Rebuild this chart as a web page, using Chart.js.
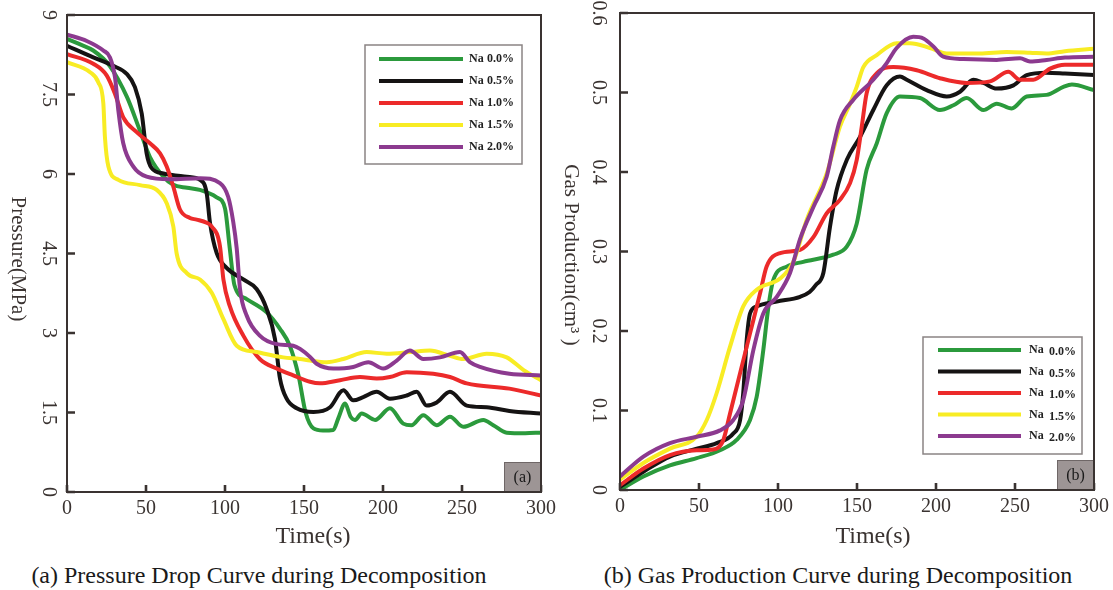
<!DOCTYPE html>
<html>
<head>
<meta charset="utf-8">
<script src="https://cdn.jsdelivr.net/npm/chart.js@4"></script>
<style>
  html, body { margin:0; padding:0; background:#fff; width:1113px; height:590px; overflow:hidden; }
  canvas { position:absolute; top:0; }
  .cap { position:absolute; top:561px; font-family:"Liberation Serif", serif; font-size:24px; line-height:28px; color:#1a1a1a; white-space:nowrap; transform:translateX(-50%); }
</style>
</head>
<body>
<canvas id="cA" width="556" height="560" style="left:0px"></canvas>
<canvas id="cB" width="557" height="560" style="left:556px"></canvas>
<div class="cap" style="left:259px">(a) Pressure Drop Curve during Decomposition</div>
<div class="cap" style="left:838px">(b) Gas Production Curve during Decomposition</div>
<script>
// ---------- shared ----------
const seriesLabels = ['0.0%', '0.5%', '1.0%', '1.5%', '2.0%'];
const seriesPrefix = 'Na';
const xTickValues = [0, 50, 100, 150, 200, 250, 300];
const xTickLabels = ['0', '50', '100', '150', '200', '250', '300'];

// ---------- (a) pressure, MPa ----------
const pressureTicks = [0, 1.5, 3, 4.5, 6, 7.5, 9];
const pressureTickLabels = ['0', '1.5', '3', '4.5', '6', '7.5', '9'];

const pT_00 = [0, 8, 16.6, 27, 38, 46, 52.5, 61, 67, 76, 84, 94.7, 100, 103, 106, 113.7, 126.4, 134.8, 141, 146.5, 151, 156, 162, 168.5, 171.7, 176, 179.5, 182.3, 186.5, 195, 204.4, 212.8, 218, 225.5, 234, 242.4, 250.8, 263.5, 269.8, 278.3, 290, 300];
const pV_00 = [8.55, 8.45, 8.33, 8.04, 7.45, 6.83, 6.32, 5.95, 5.80, 5.74, 5.70, 5.56, 5.35, 4.6, 3.9, 3.64, 3.39, 3.08, 2.76, 2.20, 1.50, 1.20, 1.16, 1.17, 1.39, 1.67, 1.42, 1.36, 1.48, 1.36, 1.58, 1.29, 1.26, 1.45, 1.26, 1.42, 1.23, 1.36, 1.26, 1.12, 1.11, 1.12];

const pT_05 = [0, 16.6, 29.3, 37.8, 43, 47.3, 50.4, 53.6, 61, 75.8, 84.2, 88.4, 90.5, 94.7, 101, 111.6, 120, 126.4, 131.6, 134.8, 139, 145.4, 156, 166.5, 174.9, 181.2, 187.5, 196, 204.4, 215, 221.3, 227.6, 234, 242.4, 253, 265.6, 280, 300];
const pV_05 = [8.42, 8.2, 8.04, 7.89, 7.64, 7.14, 6.39, 6.11, 6.01, 5.95, 5.89, 5.64, 5.08, 4.51, 4.23, 4.01, 3.83, 3.45, 2.89, 2.14, 1.76, 1.58, 1.51, 1.60, 1.92, 1.73, 1.79, 1.89, 1.76, 1.82, 1.89, 1.63, 1.69, 1.89, 1.63, 1.60, 1.53, 1.48];

const pT_10 = [0, 16.6, 25.1, 30.4, 35.6, 44.1, 52.5, 58.9, 63.1, 67.3, 71.5, 77.8, 82, 88.4, 91.6, 96.8, 99, 103, 111.6, 122, 132.7, 143.2, 153.8, 160, 172.8, 185.4, 196, 204.4, 215, 231.8, 242.4, 253, 280, 300];
const pV_10 = [8.26, 8.08, 7.86, 7.51, 7.07, 6.79, 6.58, 6.39, 6.14, 5.76, 5.33, 5.17, 5.14, 5.08, 5.01, 4.64, 4.01, 3.51, 2.95, 2.51, 2.33, 2.20, 2.08, 2.05, 2.11, 2.17, 2.14, 2.17, 2.26, 2.23, 2.17, 2.05, 1.95, 1.82];

const pT_15 = [0, 14.6, 19.8, 23, 24, 26.2, 32.5, 46.2, 56.8, 63.1, 67.3, 69.4, 75.8, 84.2, 91.6, 99, 107.4, 120, 136.9, 147.5, 153.8, 164.4, 174.9, 189.7, 202.3, 217, 229.7, 242.4, 250.8, 265.6, 278.3, 289, 300];
const pV_15 = [8.11, 7.92, 7.73, 7.33, 6.70, 6.14, 5.89, 5.79, 5.70, 5.45, 5.01, 4.50, 4.13, 4.01, 3.76, 3.26, 2.76, 2.64, 2.54, 2.51, 2.48, 2.45, 2.51, 2.64, 2.61, 2.64, 2.67, 2.57, 2.51, 2.61, 2.54, 2.30, 2.11];

const pT_20 = [0, 12.5, 23, 27.2, 30.4, 32.5, 35.6, 42, 50.4, 65.2, 84.2, 96.8, 102, 105.2, 107.4, 109.5, 113.7, 122, 132.7, 143.2, 147.5, 153.8, 158, 168.5, 181.2, 190.7, 200.2, 208.7, 217, 225.5, 236, 248.7, 255, 261.4, 280, 300];
const pV_20 = [8.63, 8.51, 8.33, 8.2, 7.82, 7.2, 6.58, 6.14, 5.95, 5.90, 5.92, 5.83, 5.57, 5.1, 4.6, 3.83, 3.33, 2.95, 2.79, 2.76, 2.70, 2.55, 2.42, 2.33, 2.36, 2.45, 2.33, 2.48, 2.67, 2.51, 2.54, 2.64, 2.45, 2.36, 2.23, 2.20];

// ---------- (b) gas production, cm3 ----------
const gasTicks = [0, 0.1, 0.2, 0.3, 0.4, 0.5, 0.6];
const gasTickLabels = ['0', '0.1', '0.2', '0.3', '0.4', '0.5', '0.6'];

const gT_00 = [0, 14.8, 31.6, 48.5, 63.3, 73.8, 82.3, 86.5, 90.7, 93.9, 97, 105.5, 116, 135, 143.5, 149.8, 156.1, 162.5, 168.8, 177.2, 189.9, 202.5, 211, 219.4, 230, 238.4, 247.9, 257.4, 270, 280.6, 286, 300];
const gV_00 = [0, 0.017, 0.031, 0.040, 0.050, 0.063, 0.088, 0.117, 0.176, 0.23, 0.264, 0.281, 0.287, 0.296, 0.306, 0.335, 0.403, 0.436, 0.474, 0.495, 0.493, 0.478, 0.484, 0.493, 0.478, 0.486, 0.480, 0.495, 0.497, 0.507, 0.510, 0.503];

const gT_05 = [0, 14.8, 31.6, 48.5, 61.2, 71.7, 76, 78, 80.2, 82.3, 86.5, 99.2, 114, 120, 124, 128.7, 132.9, 137.1, 143.5, 151.9, 160.3, 168.8, 177.2, 181.5, 194.1, 206.8, 215.2, 223.6, 230, 238.4, 249, 257.4, 270, 281.6, 300];
const gV_05 = [0.004, 0.023, 0.042, 0.052, 0.059, 0.071, 0.088, 0.122, 0.189, 0.222, 0.231, 0.237, 0.243, 0.249, 0.258, 0.273, 0.331, 0.377, 0.415, 0.444, 0.478, 0.509, 0.520, 0.516, 0.503, 0.495, 0.501, 0.516, 0.512, 0.505, 0.509, 0.522, 0.525, 0.524, 0.522];

const gT_10 = [0, 14.8, 31.6, 48.5, 59, 65.4, 69.6, 76, 82.3, 88.6, 92.8, 101.3, 114, 122.4, 130.8, 139.2, 145.6, 149.8, 153, 156.1, 162.5, 173, 187.8, 202.5, 219.4, 234.2, 245.8, 253.2, 261.6, 272.2, 281.6, 300];
const gV_10 = [0.006, 0.027, 0.044, 0.050, 0.051, 0.063, 0.096, 0.147, 0.197, 0.247, 0.281, 0.298, 0.302, 0.318, 0.348, 0.365, 0.386, 0.415, 0.457, 0.499, 0.524, 0.532, 0.528, 0.518, 0.512, 0.514, 0.526, 0.516, 0.516, 0.530, 0.535, 0.535];

const gT_15 = [0, 14.8, 31.6, 48.5, 54.9, 61.2, 69.6, 78, 86.5, 101.3, 109.7, 118.2, 130.8, 139.2, 145.6, 149.8, 154, 162.5, 175.1, 183.5, 196.2, 206.8, 227.8, 244.7, 259.5, 270, 281.6, 300];
const gV_15 = [0.013, 0.034, 0.052, 0.067, 0.088, 0.122, 0.180, 0.231, 0.252, 0.266, 0.287, 0.340, 0.398, 0.457, 0.486, 0.507, 0.532, 0.547, 0.562, 0.562, 0.556, 0.549, 0.549, 0.551, 0.550, 0.549, 0.552, 0.555];

const gT_20 = [0, 14.8, 31.6, 48.5, 63.3, 71.7, 78, 84.4, 90.7, 99.2, 107.6, 114, 122.4, 130.8, 135, 139.2, 147.7, 160.3, 168.8, 175.1, 185.6, 192, 198.3, 204.6, 217.3, 238.4, 253.2, 259.5, 270, 281.6, 300];
const gV_20 = [0.017, 0.042, 0.059, 0.067, 0.075, 0.088, 0.113, 0.176, 0.222, 0.243, 0.273, 0.316, 0.356, 0.394, 0.432, 0.465, 0.491, 0.516, 0.537, 0.556, 0.570, 0.568, 0.558, 0.545, 0.542, 0.541, 0.543, 0.539, 0.541, 0.544, 0.545];

// ---------- styling ----------
const lineColors = ['#2b9a3c', '#151313', '#ec2a2a', '#f8ec24', '#8c3a8f'];
const FONT = '"Liberation Serif", "Times New Roman", serif';
const INK = '#3a3331';

function pts(t, v) { return t.map((x, i) => ({ x: x, y: v[i] })); }

const decor = {
  id: 'decor',
  afterDraw(chart, args, o) {
    const ctx = chart.ctx, a = chart.chartArea, xs = chart.scales.x, ys = chart.scales.y;
    ctx.save();
    // frame
    ctx.strokeStyle = INK; ctx.lineWidth = 2;
    ctx.strokeRect(a.left, a.top, a.right - a.left, a.bottom - a.top);
    // inward tick marks
    ctx.lineWidth = 2.6;
    ctx.beginPath();
    xTickValues.forEach(v => { const px = xs.getPixelForValue(v); ctx.moveTo(px, a.bottom); ctx.lineTo(px, a.bottom - 7); });
    o.yTicks.forEach(v => { const py = ys.getPixelForValue(v); ctx.moveTo(a.left, py); ctx.lineTo(a.left + 8, py); });
    ctx.stroke();
    ctx.fillStyle = INK;
    ctx.font = '20px ' + FONT; ctx.textAlign = 'center'; ctx.textBaseline = 'middle';
    // x tick labels
    xTickValues.forEach((v, i) => { ctx.fillText(xTickLabels[i], xs.getPixelForValue(v), a.bottom + 17); });
    // rotated y tick labels
    o.yTicks.forEach((v, i) => {
      const py = ys.getPixelForValue(v);
      ctx.save(); ctx.translate(o.yLabelX, py); ctx.rotate(Math.PI / 2); ctx.fillText(o.yLabels[i], 0, 0); ctx.restore();
    });
    // y title (rotated, reading downwards)
    ctx.font = '21px ' + FONT;
    ctx.save(); ctx.translate(o.yTitleX, o.yTitleY); ctx.rotate(Math.PI / 2); ctx.fillText(o.yTitle, 0, 0); ctx.restore();
    // x title
    ctx.font = '24px ' + FONT;
    ctx.fillText(o.xTitle, o.xTitleX, o.xTitleY);
    // tag box
    const tw = 37, th = 30;
    ctx.fillStyle = '#9d9595';
    ctx.fillRect(a.right - tw, a.bottom - th, tw, th);
    ctx.strokeStyle = '#6f6767'; ctx.lineWidth = 1;
    ctx.strokeRect(a.right - tw + 0.5, a.bottom - th + 0.5, tw - 1, th - 1);
    ctx.fillStyle = '#1a1a1a'; ctx.font = '16px ' + FONT;
    ctx.fillText(o.tag, a.right - tw / 2, a.bottom - th / 2 + 1);
    // frame again on top of tag
    ctx.strokeStyle = INK; ctx.lineWidth = 2;
    ctx.beginPath(); ctx.moveTo(a.right, a.top); ctx.lineTo(a.right, a.bottom); ctx.lineTo(a.left, a.bottom); ctx.stroke();
    // legend
    const L = o.legend;
    ctx.fillStyle = '#fff'; ctx.fillRect(L.x0, L.y0, L.x1 - L.x0, L.y1 - L.y0);
    ctx.strokeStyle = '#8a8484'; ctx.lineWidth = 1.5;
    ctx.strokeRect(L.x0, L.y0, L.x1 - L.x0, L.y1 - L.y0);
    chart.data.datasets.forEach((ds, i) => {
      const ry = L.row0 + i * L.rowGap;
      ctx.strokeStyle = ds.borderColor; ctx.lineWidth = 4; ctx.lineCap = 'butt';
      ctx.beginPath(); ctx.moveTo(L.lx0, ry); ctx.lineTo(L.lx1, ry); ctx.stroke();
      ctx.fillStyle = '#222'; ctx.font = 'bold 12px ' + FONT; ctx.textAlign = 'left'; ctx.textBaseline = 'middle';
      ctx.fillText(seriesPrefix, L.naX, ry);
      ctx.fillText(seriesLabels[i], L.pctX, ry + L.pctDy);
    });
    ctx.restore();
  }
};

function makeChart(id, sets, yMax, pad, decorOpts) {
  return new Chart(document.getElementById(id), {
    type: 'line',
    data: {
      datasets: sets.map((s, i) => ({
        label: seriesPrefix + ' ' + seriesLabels[i],
        data: pts(s[0], s[1]),
        borderColor: lineColors[i],
        backgroundColor: lineColors[i],
        borderWidth: 4,
        pointRadius: 0,
        fill: false,
        cubicInterpolationMode: 'monotone',
        order: 4 - i
      }))
    },
    options: {
      responsive: false, animation: false, devicePixelRatio: 1,
      layout: { padding: pad },
      plugins: { legend: { display: false }, tooltip: { enabled: false }, decor: decorOpts },
      scales: {
        x: { type: 'linear', display: false, min: 0, max: 300 },
        y: { type: 'linear', display: false, min: 0, max: yMax }
      }
    },
    plugins: [decor]
  });
}

makeChart('cA',
  [[pT_00, pV_00], [pT_05, pV_05], [pT_10, pV_10], [pT_15, pV_15], [pT_20, pV_20]],
  9, { left: 67, right: 15, top: 15, bottom: 68 },
  { yTicks: pressureTicks, yLabels: pressureTickLabels, yLabelX: 48, yTitle: 'Pressure(MPa)', yTitleX: 18, yTitleY: 259,
    xTitle: 'Time(s)', xTitleX: 313, xTitleY: 537, tag: '(a)',
    legend: { x0: 365, y0: 45, x1: 522, y1: 164, row0: 59, rowGap: 22, lx0: 379, lx1: 463, naX: 469, pctX: 487, pctDy: 0 } });

makeChart('cB',
  [[gT_00, gV_00], [gT_05, gV_05], [gT_10, gV_10], [gT_15, gV_15], [gT_20, gV_20]],
  0.6, { left: 64, right: 19, top: 13, bottom: 70 },
  { yTicks: gasTicks, yLabels: gasTickLabels, yLabelX: 42, yTitle: 'Gas Production(cm\u00B3 )', yTitleX: 15, yTitleY: 255,
    xTitle: 'Time(s)', xTitleX: 317, xTitleY: 537, tag: '(b)',
    legend: { x0: 367, y0: 337, x1: 526, y1: 454, row0: 350, rowGap: 21.5, lx0: 382, lx1: 465, naX: 473, pctX: 493, pctDy: 2 } });
</script>
</body>
</html>
